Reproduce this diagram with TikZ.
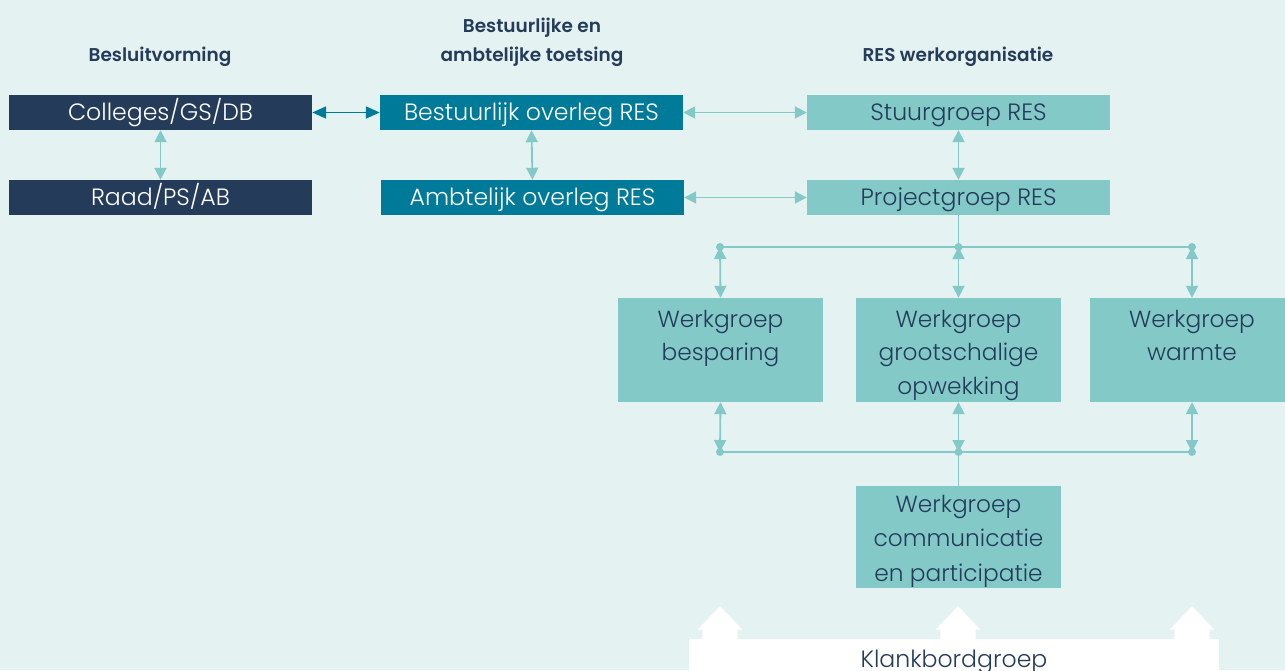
\documentclass[tikz,border=0pt]{standalone}
\usepackage{fontspec}
\setmainfont{Poppins}
\newfontfamily\lightf{Poppins Light}
\newfontfamily\semif{Poppins SemiBold}
\usetikzlibrary{arrows.meta}
\definecolor{bg}{HTML}{E4F2F1}
\definecolor{navy}{HTML}{243B5A}
\definecolor{teal}{HTML}{007A99}
\definecolor{lteal}{HTML}{83C9C8}
\tikzset{
  base/.style={rectangle, inner sep=0pt, minimum width=303pt, minimum height=35pt, text height=16.4pt, text depth=0pt, font=\lightf\fontsize{23.6}{28}\selectfont},
  navybox/.style={base, fill=navy, text=white},
  tealbox/.style={base, fill=teal, text=white},
  lbox/.style={base, fill=lteal, text=navy},
  wgbox/.style={rectangle, inner sep=0pt, fill=lteal, minimum width=205pt},
  wgtext/.style={anchor=north, inner sep=0pt, text=navy, align=center, font=\lightf\fontsize{23.3}{33.5}\selectfont},
  hdr/.style={text=navy, align=center, font=\semif\fontsize{18.5}{29}\selectfont},
  lconn/.style={draw=lteal, line width=1.8pt, {Triangle[width=12pt,length=12pt]}-{Triangle[width=12pt,length=12pt]}},
  dconn/.style={draw=teal, line width=1.8pt, {Triangle[width=12pt,length=14pt]}-{Triangle[width=12pt,length=14pt]}},
  lline/.style={draw=lteal, line width=1.8pt},
  dot/.style={circle, fill=lteal, inner sep=0pt, minimum size=8pt},
}
\begin{document}
\begin{tikzpicture}[x=1pt, y=-1pt]
\useasboundingbox (0,0) rectangle (1285,670);
\fill[bg] (0,0) rectangle (1285,670);
% headers
\node[hdr] (h1) at (160,56.5) {Besluitvorming};
\node[hdr] (h2) at (532,42.5) {Bestuurlijke en\\ambtelijke toetsing};
\node[hdr] (h3) at (958,56.5) {RES werkorganisatie};
% boxes
\node[navybox] (col) at (160.5,112.5) {Colleges/GS/DB};
\node[navybox] (raad) at (160.5,197.5) {Raad/PS/AB};
\node[tealbox] (bo) at (531.5,112.5) {Bestuurlijk overleg RES};
\node[tealbox] (ao) at (532.5,197.5) {Ambtelijk overleg RES};
\node[lbox] (sg) at (958.5,112.5) {Stuurgroep RES};
\node[lbox] (pg) at (958.5,197.5) {Projectgroep RES};
\node[wgbox, minimum height=104pt] (wb) at (720.5,350) {};
\node[wgbox, minimum height=104pt] (wo) at (958.5,350) {};
\node[wgbox, minimum height=104pt] (ww) at (1192,350) {};
\node[wgbox, minimum height=102pt] (wc) at (958.5,537) {};
\node[wgtext] (wbt) at ([yshift=-11.8pt]wb.north) {Werkgroep\\besparing};
\node[wgtext] (wot) at ([yshift=-11.8pt]wo.north) {Werkgroep\\grootschalige\\opwekking};
\node[wgtext] (wwt) at ([yshift=-11.8pt]ww.north) {Werkgroep\\warmte};
\node[wgtext, font=\lightf\fontsize{23.3}{34.5}\selectfont] (wct) at ([yshift=-9.1pt]wc.north) {Werkgroep\\communicatie\\en participatie};
% klankbord
\node[rectangle, fill=white, inner sep=0pt, minimum width=530pt, minimum height=40pt, text=navy,
  text height=16.4pt, text depth=0pt, font=\lightf\fontsize{23.6}{28}\selectfont] (kb) at (954,659) {Klankbordgroep};
\foreach \x in {720,958,1192}{
  \fill[white] (\x-17.7,640) -- (\x-17.7,629.7) -- (\x-22.3,629.7) -- (\x,606) -- (\x+22.3,629.7) -- (\x+17.7,629.7) -- (\x+17.7,640) -- cycle;
}
% connectors
\draw[dconn] (col.east) -- (bo.west);
\draw[lconn] (col.south) -- (raad.north);
\draw[lconn] (bo.south) -- (ao.north);
\draw[lconn] (bo.east) -- (sg.west);
\draw[lconn] (ao.east) -- (pg.west);
\draw[lconn] (sg.south) -- (pg.north);
% top bus
\coordinate (t1) at (720,247);
\coordinate (t2) at (958.5,247);
\coordinate (t3) at (1192,247);
\draw[lline] (pg.south) -- (t2);
\draw[lline] (t1) -- (t3);
\draw[lconn] (t1) -- (wb.north);
\draw[lconn] (t2) -- (wo.north);
\draw[lconn] (t3) -- (ww.north);
\node[dot] at (t1) {};
\node[dot] at (t2) {};
\node[dot] at (t3) {};
% bottom bus
\coordinate (b1) at (720,452);
\coordinate (b2) at (958.5,452);
\coordinate (b3) at (1192,452);
\draw[lline] (b2) -- (wc.north);
\draw[lline] (b1) -- (b3);
\draw[lconn] (wb.south) -- (b1);
\draw[lconn] (wo.south) -- (b2);
\draw[lconn] (ww.south) -- (b3);
\node[dot] at (b1) {};
\node[dot] at (b2) {};
\node[dot] at (b3) {};
\end{tikzpicture}
\end{document}
